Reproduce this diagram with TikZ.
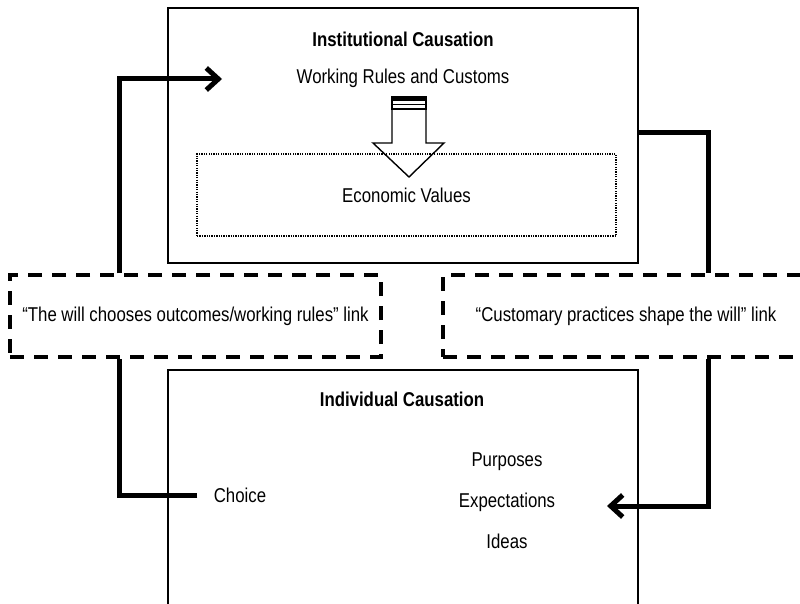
\documentclass[tikz,border=0pt]{standalone}
\usepackage{fontspec}
\setmainfont[FakeStretch=0.84]{Liberation Sans}
\usetikzlibrary{
  arrows.meta,
  positioning,
}
\tikzset{
  >={Straight Barb[length=12pt,width=22pt]},
  box/.style={draw,rectangle,line width=1.4pt},
  inner/.style={draw,rectangle,line width=1.2pt,dash pattern=on 1.3pt off 1.1pt},
  link/.style={draw,rectangle,line width=3.5pt,dash pattern=on 14pt off 10pt,minimum height=82pt},
  conn/.style={line width=5pt},
  txt/.style={font=\fontsize{20}{24}\selectfont},
  head/.style={font=\fontsize{20}{24}\selectfont\bfseries},
  item/.style={txt,text height=14pt,text depth=4pt,inner sep=2pt},
}

\begin{document}
\begin{tikzpicture}[x=1pt,y=-1pt,node distance=19pt]
      \useasboundingbox (0,0) rectangle (800,604);
      \clip (0,0) rectangle (800,604);

      % institutional level
      \node[box,minimum width=470pt,minimum height=255pt]    (inst)  at (403,135.5)   {};
      \node[head]    (insttitle)  at (403,39)   {Institutional Causation};
      \node[txt]    (rules)  [below=16pt of insttitle]   {Working Rules and Customs};
      \node[inner,txt,minimum width=419pt,minimum height=82pt]    (econ)  at (406.5,195)   {Economic Values};

      % block arrow rules -> values
      \draw[line width=1.4pt] (392,109) -- (392,143) -- (373,143) -- (409,177) -- (444,143) -- (426,143) -- (426,109);
      \draw[line width=1.4pt] (392,97) rectangle (426,109);
      \fill (392,97) rectangle (426,101);
      \draw[line width=0.8pt] (392,104) -- (426,104);

      % the two links
      \node[link,txt,minimum width=371pt]    (willlink)  at (195.5,316)   {“The will chooses outcomes/working rules” link};
      \node[link,txt,minimum width=366pt]    (custlink)  at (626,316)   {“Customary practices shape the will” link};

      % individual level
      \node[box,minimum width=470pt,minimum height=260pt]    (indiv)  at (403,500)   {};
      \node[head]    (indtitle)  at (402,399)   {Individual Causation};
      \node[item]    (purp)  at (507,461)   {Purposes};
      \node[item]    (expect)  [below=of purp]   {Expectations};
      \node[item]    (ideas)  [below=of expect]   {Ideas};
      \node[txt]    (choice)  at (240,495)   {Choice};

      % connectors
      \coordinate (lbend) at (119,495);
      \coordinate (ltip) at (222,79);
      \coordinate (rbend) at (708,133);
      \coordinate (rtip) at (607,506);
      \draw[conn] ([xshift=-13pt]choice.west) -| (willlink.south -| lbend);
      \draw[conn,->] (willlink.north -| lbend) |- (ltip);
      \draw[conn] (inst.east |- rbend) -| (custlink.north -| rbend);
      \draw[conn,->] (custlink.south -| rbend) |- (rtip);

    \end{tikzpicture}
\end{document}
